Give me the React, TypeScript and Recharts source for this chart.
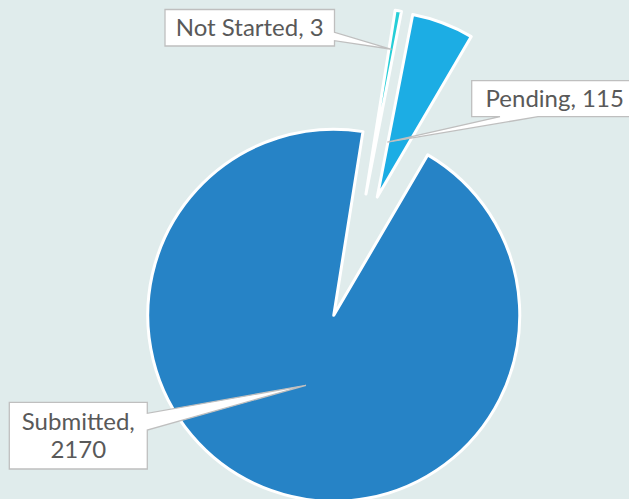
import { PieChart, Pie, Cell } from "recharts";

const NAMES = ["Pending", "Submitted", "Not Started"];
const VALUES = [115, 2170, 3];
const COLORS = ["#1cade4", "#2683c6", "#27ced7"];

const W = 629;
const H = 499;
const CENTER = { x: 355, y: 256 };
const RADIUS = 186;
const EXPLODE = 63;
const FIRST_ANGLE = 11; // degrees clockwise from 12 o'clock
const MIN_ANGLE = 1.5;
const RAD = Math.PI / 180;
const FONT = "Lato, 'Open Sans', sans-serif";

const DATA = NAMES.map((name, i) => ({ name, value: VALUES[i] }));

// split the circle the same way recharts does with minAngle, to find each slice's middle
const total = VALUES.reduce((a, b) => a + b, 0);
const spread = 360 - VALUES.filter((v) => v !== 0).length * MIN_ANGLE;
const midAngles: number[] = [];
let acc = FIRST_ANGLE;
VALUES.forEach((v) => {
  const a = MIN_ANGLE + (v / total) * spread;
  midAngles.push(acc + a / 2);
  acc += a;
});

// callout boxes (x, y, w, h), which edge the pointer leaves from, and where it lands inside the slice
const CALLOUTS: Record<number, any> = {
  0: { box: [471.7, 80.7, 166, 36], side: "bottom", base: [500, 538], turn: 10.3, depth: 0.3, split: false },
  1: { box: [9.3, 402.3, 138, 66.7], side: "right", base: [413.3, 430], turn: -1.95, depth: 0.405, split: true },
  2: { box: [165, 9.5, 169.5, 36.5], side: "right", base: [32.3, 40.7], turn: 0, depth: 0.79, split: false },
};

function calloutPath(c: any, tx: number, ty: number) {
  const [x, y, w, h] = c.box;
  const [b1, b2] = c.base;
  if (c.side === "right") {
    return `M${x},${y} L${x + w},${y} L${x + w},${b1} L${tx},${ty} L${x + w},${b2} L${x + w},${y + h} L${x},${y + h} Z`;
  }
  return `M${x},${y} L${x + w},${y} L${x + w},${y + h} L${b2},${y + h} L${tx},${ty} L${b1},${y + h} L${x},${y + h} Z`;
}

function makeLabel(k: number) {
  // eslint-disable-next-line @typescript-eslint/no-explicit-any
  return (props: any) => {
    if (props.index !== k) return null;
    const c = CALLOUTS[k];
    const a = (props.midAngle + c.turn) * RAD;
    const r = props.outerRadius * c.depth;
    const tx = props.cx + r * Math.cos(a);
    const ty = props.cy - r * Math.sin(a);
    const [x, y, w, h] = c.box;
    const lines = c.split ? [`${NAMES[k]},`, `${VALUES[k]}`] : [`${NAMES[k]}, ${VALUES[k]}`];
    const lineH = 28;
    const first = y + h / 2 - ((lines.length - 1) * lineH) / 2 + 8.5;
    return (
      <g>
        <path d={calloutPath(c, tx, ty)} fill="#fff" stroke="#bfbfbf" strokeWidth={1.3} strokeLinejoin="miter" />
        <text textAnchor="middle" fontFamily={FONT} fontSize={24} fill="#595959">
          {lines.map((t, i) => (
            <tspan key={i} x={x + w / 2} y={first + i * lineH}>
              {t}
            </tspan>
          ))}
        </text>
      </g>
    );
  };
}

// drawn back to front: Submitted, Not Started, Pending
const DRAW_ORDER = [1, 2, 0];

export default function App() {
  return (
    <div style={{ position: "absolute", left: 0, top: 0, width: W, height: H, background: "#e0ecec", overflow: "hidden" }}>
      <PieChart width={W} height={H} margin={{ top: 0, right: 0, bottom: 0, left: 0 }}>
        {DRAW_ORDER.map((k) => (
          <Pie
            key={k}
            data={DATA}
            dataKey="value"
            nameKey="name"
            cx={CENTER.x + EXPLODE * Math.sin(midAngles[k] * RAD)}
            cy={CENTER.y - EXPLODE * Math.cos(midAngles[k] * RAD)}
            outerRadius={RADIUS}
            startAngle={90 - FIRST_ANGLE}
            endAngle={90 - FIRST_ANGLE - 360}
            minAngle={MIN_ANGLE}
            labelLine={false}
            label={makeLabel(k)}
            isAnimationActive={false}
          >
            {DATA.map((d, i) => (
              <Cell
                key={d.name}
                fill={i === k ? COLORS[i] : "none"}
                stroke={i === k ? "#ffffff" : "none"}
                strokeWidth={3}
                strokeLinejoin="round"
              />
            ))}
          </Pie>
        ))}
      </PieChart>
    </div>
  );
}
